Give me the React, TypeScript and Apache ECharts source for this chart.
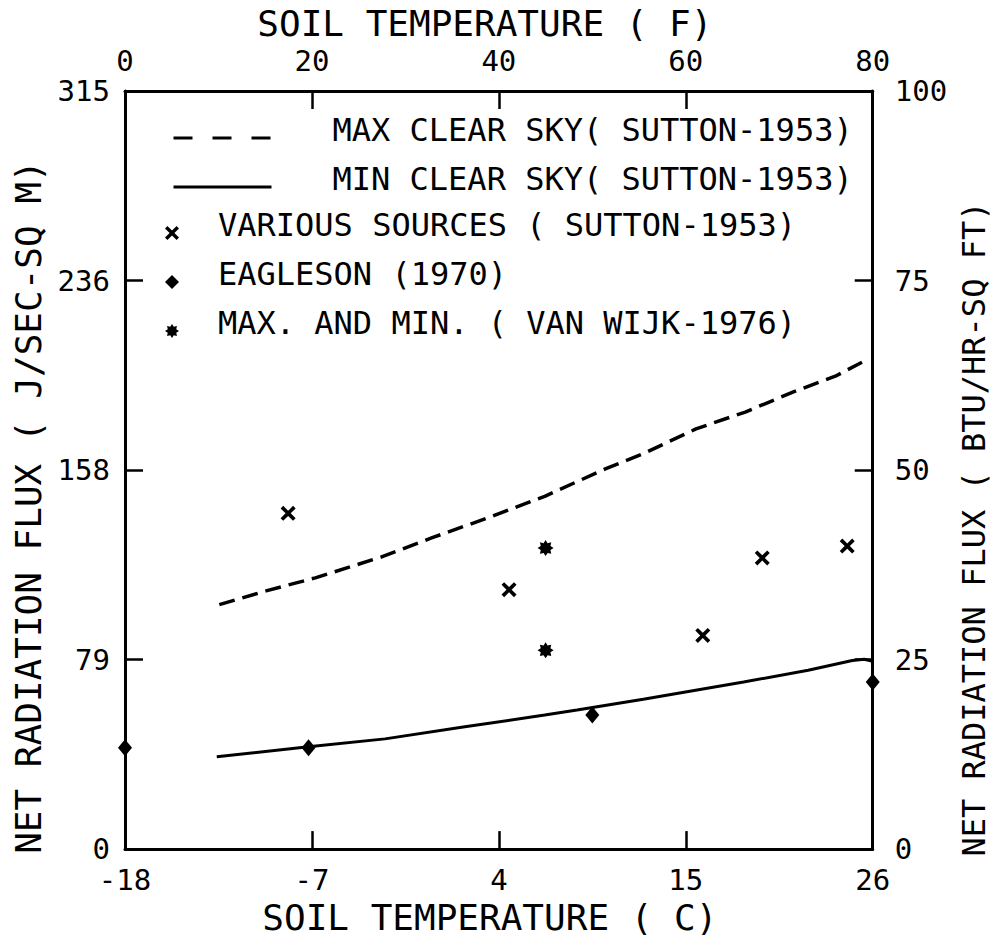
import React, { useEffect, useRef } from 'react';
import * as echarts from 'echarts';

// Axis tick labels
const xTicksC = [-18, -7, 4, 15, 26];
const xTicksF = [0, 20, 40, 60, 80];
const yTicksSI = [0, 79, 158, 236, 315];
const yTicksBTU = [0, 25, 50, 75, 100];

// MAX CLEAR SKY (Sutton-1953) – dashed curve
const maxClearTemp = [-12.45, -9.7, -6.8, -2.9, 0.0, 3.3, 6.7, 10.3, 12.5, 15.6, 18.5, 21.3, 23.8, 25.7];
const maxClearFlux = [101.6, 107.3, 112.7, 121.4, 129.2, 137.5, 146.6, 158.1, 164.3, 174.6, 181.6, 189.9, 196.5, 203.5];

// MIN CLEAR SKY (Sutton-1953) – solid curve
const minClearTemp = [-12.6, -7.2, -2.7, 2.0, 6.7, 8.6, 12.5, 18.4, 22.2, 24.8, 25.5, 26.0];
const minClearFlux = [38.4, 42.5, 45.8, 50.8, 55.7, 57.8, 62.3, 69.4, 74.3, 78.4, 78.9, 78.0];

// VARIOUS SOURCES (Sutton-1953)
const variousTemp = [-8.4, 4.6, 16.0, 19.5, 24.5];
const variousFlux = [139.5, 107.8, 88.8, 121.0, 125.9];

// EAGLESON (1970)
const eaglesonTemp = [-18, -7.2, 9.5, 26];
const eaglesonFlux = [42.1, 42.1, 55.7, 69.4];

// MAX. AND MIN. (VAN WIJK-1976)
const vanWijkTemp = [6.75, 6.75];
const vanWijkFlux = [125.1, 82.6];

const MAX_NAME = 'MAX CLEAR SKY( SUTTON-1953)';
const MIN_NAME = 'MIN CLEAR SKY( SUTTON-1953)';
const VAR_NAME = 'VARIOUS SOURCES ( SUTTON-1953)';
const EAG_NAME = 'EAGLESON (1970)';
const VW_NAME = 'MAX. AND MIN. ( VAN WIJK-1976)';

const FONT = 'DejaVu Sans Mono';
const BLACK = '#000';

const X_SYMBOL = 'path://M0,2.4 L2.4,0 L7,4.6 L11.6,0 L14,2.4 L9.4,7 L14,11.6 L11.6,14 L7,9.4 L2.4,14 L0,11.6 L4.6,7 Z';

function starSymbol(): string {
  const pts: string[] = [];
  for (let k = 0; k < 16; k++) {
    const a = (k * Math.PI) / 8;
    const r = k % 2 === 0 ? 7 : 4.6;
    const x = 7 + r * Math.cos(a);
    const y = 7 + r * Math.sin(a);
    pts.push(`${k === 0 ? 'M' : 'L'}${x.toFixed(2)},${y.toFixed(2)}`);
  }
  return 'path://' + pts.join(' ') + ' Z';
}

const zip = (a: number[], b: number[]) => a.map((v, i) => [v, b[i]]);

export default function App() {
  const ref = useRef<HTMLDivElement>(null);

  useEffect(() => {
    if (!ref.current) return;
    const chart = echarts.init(ref.current, undefined, { renderer: 'svg' });

    const axisLine = { show: true, onZero: false, lineStyle: { color: BLACK, width: 3 } };
    const axisTick = { show: true, inside: true, length: 18, lineStyle: { color: BLACK, width: 2.5 } };
    const labelStyle = { color: BLACK, fontFamily: FONT, fontSize: 29 };
    const nameStyle = { color: BLACK, fontFamily: FONT, fontSize: 36 };

    const legendRich = (padLeft: number) => ({
      t: { color: BLACK, fontFamily: FONT, fontSize: 32, lineHeight: 30, padding: [0, 0, 16, padLeft] },
    });

    const option: any = {
      animation: false,
      backgroundColor: '#fff',
      grid: { left: 125, width: 757, top: 90, height: 763, containLabel: false },
      xAxis: [
        {
          type: 'value',
          position: 'bottom',
          min: xTicksC[0],
          max: xTicksC[xTicksC.length - 1],
          interval: xTicksC[1] - xTicksC[0],
          axisLine,
          axisTick,
          splitLine: { show: false },
          axisLabel: { ...labelStyle, margin: 16, formatter: (v: number) => String(v) },
          name: 'SOIL TEMPERATURE ( C)',
          nameLocation: 'middle',
          nameGap: 47,
          nameTextStyle: { ...nameStyle, padding: [0, 18, 0, 0] },
        },
        {
          type: 'value',
          position: 'top',
          min: xTicksF[0],
          max: xTicksF[xTicksF.length - 1],
          interval: xTicksF[1] - xTicksF[0],
          axisLine,
          axisTick,
          splitLine: { show: false },
          axisLabel: { ...labelStyle, margin: 16, formatter: (v: number) => String(v) },
          name: 'SOIL TEMPERATURE ( F)',
          nameLocation: 'middle',
          nameGap: 50,
          nameTextStyle: { ...nameStyle, padding: [0, 28, 0, 0] },
        },
      ],
      yAxis: [
        {
          type: 'value',
          position: 'left',
          min: 0,
          max: yTicksSI[yTicksSI.length - 1],
          interval: yTicksSI[yTicksSI.length - 1] / (yTicksSI.length - 1),
          axisLine,
          axisTick,
          splitLine: { show: false },
          axisLabel: { ...labelStyle, margin: 15, formatter: (_v: number, i: number) => String(yTicksSI[i]) },
          name: 'NET RADIATION FLUX ( J/SEC-SQ M)',
          nameLocation: 'middle',
          nameRotate: 90,
          nameGap: 79,
          nameTextStyle: { ...nameStyle, padding: [0, 74, 0, 0] },
        },
        {
          type: 'value',
          position: 'right',
          min: 0,
          max: yTicksBTU[yTicksBTU.length - 1],
          interval: yTicksBTU[1] - yTicksBTU[0],
          axisLine,
          axisTick,
          splitLine: { show: false },
          axisLabel: { ...labelStyle, margin: 22, formatter: (v: number) => String(v) },
          name: 'NET RADIATION FLUX ( BTU/HR-SQ FT)',
          nameLocation: 'middle',
          nameRotate: 90,
          nameGap: 77,
          nameTextStyle: { ...nameStyle, fontSize: 32, padding: [0, 118, 0, 0] },
        },
      ],
      legend: [
        {
          orient: 'vertical',
          left: 172,
          top: 114,
          padding: 0,
          itemWidth: 98,
          itemHeight: 14,
          itemGap: 1,
          selectedMode: false,
          formatter: (n: string) => `{t|${n}}`,
          textStyle: { color: BLACK, fontFamily: FONT, fontSize: 32, rich: legendRich(56) },
          data: [
            { name: MAX_NAME, itemStyle: { opacity: 0 }, lineStyle: { type: [19, 20], width: 3, color: BLACK } },
            { name: MIN_NAME, itemStyle: { opacity: 0 }, lineStyle: { type: 'solid', width: 3, color: BLACK } },
          ],
        },
        {
          orient: 'vertical',
          left: 165,
          top: 209,
          padding: 0,
          itemWidth: 14,
          itemHeight: 14,
          itemGap: 1,
          selectedMode: false,
          formatter: (n: string) => `{t|${n}}`,
          textStyle: { color: BLACK, fontFamily: FONT, fontSize: 32, rich: legendRich(34) },
          data: [VAR_NAME, EAG_NAME, VW_NAME],
        },
      ],
      series: [
        {
          name: MAX_NAME,
          type: 'line',
          xAxisIndex: 0,
          yAxisIndex: 0,
          data: zip(maxClearTemp, maxClearFlux),
          symbol: 'none',
          smooth: false,
          lineStyle: { color: BLACK, width: 3.5, type: [16, 8] },
          itemStyle: { color: BLACK },
        },
        {
          name: MIN_NAME,
          type: 'line',
          xAxisIndex: 0,
          yAxisIndex: 0,
          data: zip(minClearTemp, minClearFlux),
          symbol: 'none',
          smooth: false,
          lineStyle: { color: BLACK, width: 3, type: 'solid' },
          itemStyle: { color: BLACK },
        },
        {
          name: VAR_NAME,
          type: 'scatter',
          xAxisIndex: 0,
          yAxisIndex: 0,
          clip: false,
          data: zip(variousTemp, variousFlux),
          symbol: X_SYMBOL,
          symbolSize: 15,
          itemStyle: { color: BLACK, opacity: 1 },
        },
        {
          name: EAG_NAME,
          type: 'scatter',
          xAxisIndex: 0,
          yAxisIndex: 0,
          clip: false,
          data: zip(eaglesonTemp, eaglesonFlux),
          symbol: 'diamond',
          symbolSize: [14, 17],
          itemStyle: { color: BLACK, opacity: 1 },
        },
        {
          name: VW_NAME,
          type: 'scatter',
          xAxisIndex: 0,
          yAxisIndex: 0,
          clip: false,
          data: zip(vanWijkTemp, vanWijkFlux),
          symbol: starSymbol(),
          symbolSize: 16,
          itemStyle: { color: BLACK, opacity: 1 },
        },
      ],
    };

    chart.setOption(option);
    return () => chart.dispose();
  }, []);

  return (
    <div
      ref={ref}
      style={{ position: 'fixed', left: 0, top: 0, width: 998, height: 940, background: '#fff' }}
    />
  );
}
